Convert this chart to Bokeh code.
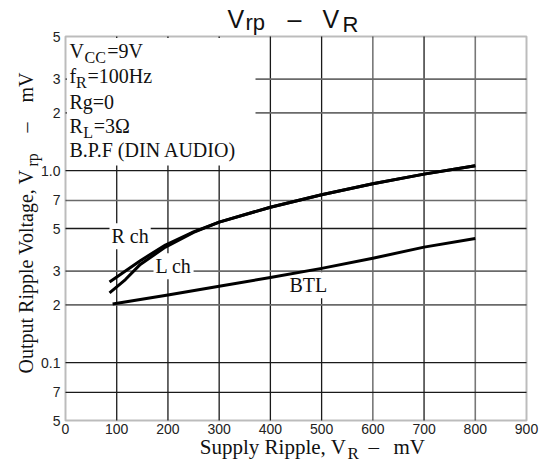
import math
from bokeh.plotting import figure
from bokeh.models import Label, BoxAnnotation, ColumnDataSource
from bokeh.embed import file_html
from bokeh.resources import INLINE

# ---------------- data ----------------
supply_rch = [86, 117, 146, 195, 250, 300, 400, 500, 600, 700, 800]
ripple_rch = [0.263, 0.30, 0.34, 0.41, 0.48, 0.54, 0.645, 0.75, 0.855, 0.96, 1.06]
supply_lch = [86, 117, 146, 195, 250, 300, 400, 500, 600, 700, 800]
ripple_lch = [0.231, 0.271, 0.325, 0.40, 0.477, 0.54, 0.645, 0.75, 0.855, 0.96, 1.06]
supply_btl = [92, 200, 300, 400, 500, 600, 700, 800]
ripple_btl = [0.202, 0.225, 0.25, 0.278, 0.31, 0.35, 0.40, 0.444]

x_ticks = [0, 100, 200, 300, 400, 500, 600, 700, 800, 900]
x_tick_labels = ["0", "100", "200", "300", "400", "500", "600", "700", "800", "900"]
y_ticks = [0.05, 0.07, 0.1, 0.2, 0.3, 0.5, 0.7, 1.0, 2, 3, 5]
y_tick_labels = ["5", "7", "0.1", "2", "3", "5", "7", "1.0", "2", "3", "5"]

x_grid_dark = [100, 200, 300, 400, 500, 700]
x_grid_gray = [600, 800]
y_grid_dark = [0.07, 0.1, 0.5, 1.0]
y_grid_gray = [0.2, 0.3, 0.7, 2, 3]

X_MIN, X_MAX = 0, 900
Y_MIN, Y_MAX = 0.05, 5

# ---------------- layout (pixels inside the canvas) ----------------
W, H = 545, 464
PL, PR, PT, PB = 65, 526, 36, 420          # plot-area edges in canvas pixels
SERIF = "Liberation Serif"
SANS = "Liberation Sans"
INK = "#111111"

# ranges extended so the whole canvas is the frame (texts outside the plot area are not clipped)
ux = (X_MAX - X_MIN) / (PR - PL)
dec = (PB - PT) / math.log10(Y_MAX / Y_MIN)
x_rng = (X_MIN - PL * ux, X_MAX + (W - PR) * ux)
y_rng = (Y_MIN * 10 ** (-(H - PB) / dec), Y_MAX * 10 ** (PT / dec))

p = figure(width=W, height=H, x_range=x_rng, y_range=y_rng, y_axis_type="log",
           x_axis_location=None, y_axis_location=None,
           output_backend="svg", toolbar_location=None,
           min_border_left=0, min_border_right=0, min_border_top=0, min_border_bottom=0,
           background_fill_color="white", border_fill_color="white")
p.outline_line_color = None
p.grid.visible = False

# grid lines (only inside the plot area)
def vgrid(xs, color, width):
    src = ColumnDataSource(dict(x=xs, y0=[Y_MIN] * len(xs), y1=[Y_MAX] * len(xs)))
    p.segment(x0="x", y0="y0", x1="x", y1="y1", source=src, line_color=color, line_width=width)

def hgrid(ys, color, width):
    src = ColumnDataSource(dict(y=ys, x0=[X_MIN] * len(ys), x1=[X_MAX] * len(ys)))
    p.segment(x0="x0", y0="y", x1="x1", y1="y", source=src, line_color=color, line_width=width)

vgrid(x_grid_dark, "#1a1a1a", 1.3)
vgrid(x_grid_gray, "#777777", 1.6)
hgrid(y_grid_dark, "#1a1a1a", 1.3)
hgrid(y_grid_gray, "#6a6a6a", 1.6)

# curves (drawn above the label backgrounds)
for xs, ys in ((supply_rch, ripple_rch), (supply_lch, ripple_lch), (supply_btl, ripple_btl)):
    p.line(xs, ys, line_width=3, line_color="black", line_join="round", level="overlay")

# white box behind the conditions text (covers the grid)
p.add_layout(BoxAnnotation(left=PL + 1.5, right=255, top=H - (PT + 1.5), bottom=H - 165,
                           left_units="screen", right_units="screen",
                           top_units="screen", bottom_units="screen",
                           fill_color="white", fill_alpha=1.0, line_alpha=0,
                           level="annotation"))

# plot-area outline
p.add_layout(BoxAnnotation(left=X_MIN, right=X_MAX, bottom=Y_MIN, top=Y_MAX,
                           fill_alpha=0, line_color="#222222", line_width=2,
                           level="annotation"))

# tick labels
for t, s in zip(x_ticks, x_tick_labels):
    p.add_layout(Label(x=t, y=Y_MIN, y_offset=-3, text=s, text_font=SANS,
                       text_font_size="14px", text_color="#222222",
                       text_align="center", text_baseline="top"))
for t, s in zip(y_ticks, y_tick_labels):
    p.add_layout(Label(x=X_MIN, y=t, x_offset=-5, text=s, text_font=SANS,
                       text_font_size="14px", text_color="#222222",
                       text_align="right", text_baseline="middle"))


def lab(text, xb, yb, size, font=SERIF, angle=0.0, bg=False):
    """Place text whose baseline starts at canvas pixel (xb, yb)."""
    k = 0.3465 if font == SANS else 0.3375
    if angle == 0.0:
        sx, sy = xb, H - (yb - k * size)
    else:
        sx, sy = xb - k * size, H - yb
    kw = {}
    if bg:
        kw = dict(background_fill_color="white", background_fill_alpha=1.0, padding=2)
    p.add_layout(Label(x=sx, y=sy, x_units="screen", y_units="screen",
                       text=text, text_font=font, text_font_size=f"{size}px",
                       text_color=INK, text_align="left", text_baseline="middle",
                       angle=angle, **kw))


# title  V_rp  –  V_R
title_parts = [("V", 227, 26.7, 25), ("rp", 245, 29.5, 22), ("\u2013", 287, 26.7, 25),
               ("V", 322, 26.7, 25), ("R", 342, 31.7, 22)]
for t, xb, yb, s in title_parts:
    lab(t, xb, yb, s, SANS)

# conditions text
cond_parts = [("V", 69, 57.7, 20), ("CC", 84, 62.7, 16), ("=9V", 106.7, 57.7, 20),
              ("f", 69, 82.7, 20), ("R", 75.5, 87.7, 16), ("=100Hz", 87, 82.7, 20),
              ("Rg=0", 69, 108.2, 20),
              ("R", 69, 132.5, 20), ("L", 82.7, 137.2, 16), ("=3\u03a9", 93.3, 132.5, 20),
              ("B.P.F (DIN AUDIO)", 69, 156.7, 20)]
for t, xb, yb, s in cond_parts:
    lab(t, xb, yb, s)

# curve labels
lab("R ch", 109, 242.5, 20, bg=True)
lab("L ch", 153, 272.5, 20, bg=True)
lab("BTL", 287, 291.5, 20, bg=True)

# x axis label  Supply Ripple, V_R  –  mV
xl_parts = [("Supply Ripple, V", 199.3, 454, 21), ("R", 347, 459, 17),
            ("\u2013", 368, 454, 21), ("mV", 393, 454, 21)]
for t, xb, yb, s in xl_parts:
    lab(t, xb, yb, s)

# y axis label  Output Ripple Voltage, V_rp  –  mV  (rotated)
A = math.pi / 2
lab("Output Ripple Voltage, V", 32.7, 373, 20, angle=A)
lab("rp", 37.7, 166, 16, angle=A)
lab("\u2013", 32.7, 132, 20, angle=A)
lab("mV", 32.7, 102, 20, angle=A)

open("out.html", "w").write(file_html(p, INLINE))
